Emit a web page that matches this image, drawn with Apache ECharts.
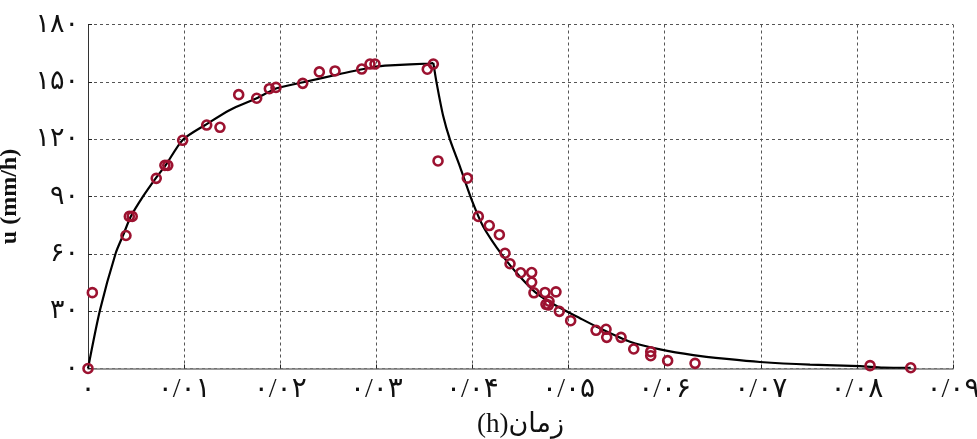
<!DOCTYPE html>
<html>
<head>
<meta charset="utf-8">
<script src="https://cdn.jsdelivr.net/npm/echarts@6/dist/echarts.min.js"></script>
<style>
  html, body { margin: 0; padding: 0; background: #fff; }
  #main { width: 977px; height: 439px; }
</style>
</head>
<body>
<div id="main"></div>
<script>
// tick labels (Persian digits)
var xLabels = ['۰', '۰/۰۱', '۰/۰۲', '۰/۰۳', '۰/۰۴', '۰/۰۵', '۰/۰۶', '۰/۰۷', '۰/۰۸', '۰/۰۹'];
var yLabels = ['۰', '۳۰', '۶۰', '۹۰', '۱۲۰', '۱۵۰', '۱۸۰'];

// measured points
var obsX = [0, 0.00045, 0.00395, 0.0043, 0.0046, 0.0071, 0.0080, 0.0083, 0.00985, 0.01235,
  0.01373, 0.01568, 0.01755, 0.01887, 0.01956, 0.02234, 0.02407, 0.0257, 0.02848, 0.02934,
  0.02986, 0.0353, 0.03593, 0.03642, 0.03947, 0.04061, 0.04175, 0.0428, 0.04339, 0.04391,
  0.04502, 0.04616, 0.04616, 0.0464, 0.04755, 0.04869, 0.04765, 0.04797, 0.0479, 0.04904,
  0.05022, 0.05286, 0.0539, 0.05397, 0.05546, 0.05678, 0.05855, 0.05855, 0.06031, 0.06316,
  0.08137, 0.0856];
var obsY = [0, 39.7, 69.6, 79.6, 79.6, 99.5, 106.3, 106.3, 119.4, 127.4,
  126.2, 143.3, 141.4, 146.4, 147.1, 149.2, 155.2, 155.7, 156.7, 159.3,
  159.3, 156.6, 159.3, 108.6, 99.6, 79.6, 74.8, 70.0, 60.3, 54.8,
  50.1, 50.2, 45.1, 39.6, 39.8, 40.1, 33.6, 35.2, 33.2, 29.9,
  25.0, 20.0, 20.5, 16.3, 16.3, 10.2, 8.8, 6.7, 4.1, 2.7,
  1.5, 0.4];

// fitted curve (rise, peak, decay)
var fitX = [0, 0.00125, 0.00288, 0.00367, 0.00444, 0.00576, 0.00704, 0.0081, 0.00985, 0.01235,
  0.01477, 0.01755, 0.01963, 0.0224, 0.02622, 0.02986, 0.03143, 0.03558, 0.03593,
  0.03628, 0.03697, 0.03767, 0.0387, 0.03992, 0.04113, 0.04321, 0.04495, 0.04668, 0.04876,
  0.05119, 0.05327, 0.05639, 0.05952, 0.06298, 0.06645, 0.06992, 0.07512, 0.08032, 0.08275,
  0.0856];
var fitY = [0, 30.6, 60.3, 69.9, 79.4, 90.3, 99.5, 106.5, 119.6, 127.9,
  135.3, 141.4, 146.6, 149.8, 154.1, 157.9, 158.6, 159.6, 159.9,
  149.2, 131.8, 119.6, 105.6, 88.2, 74.2, 58.5, 48.0, 39.3, 32.7,
  26.3, 21.0, 14.0, 10.0, 7.0, 5.0, 3.4, 2.0, 1.2, 0.5,
  0.4];
var peakIdx = 18;

var labelFont = "'Liberation Serif', 'DejaVu Sans', serif";

var chart = echarts.init(document.getElementById('main'));

function pairs(xs, ys, a, b) {
  var out = [];
  for (var i = a; i < b; i++) out.push([xs[i], ys[i]]);
  return out;
}

var option = {
  animation: false,
  backgroundColor: '#fff',
  grid: { left: 88, right: 24, top: 24.5, bottom: 70.5, outerBoundsMode: 'none', containLabel: false },
  xAxis: {
    type: 'value',
    min: 0,
    max: 0.09,
    interval: 0.01,
    name: '(h)زمان',
    nameLocation: 'middle',
    nameGap: 43,
    nameTextStyle: { fontFamily: labelFont, fontSize: 27, color: '#111' },
    axisLine: { show: true, lineStyle: { color: '#7a7a7a', width: 1.5 } },
    axisTick: { show: true, inside: true, length: 4, lineStyle: { color: '#222' } },
    axisLabel: {
      margin: 7,
      fontFamily: labelFont,
      fontSize: 28,
      color: '#111',
      formatter: function (v) { return xLabels[Math.round(v / 0.01)]; }
    },
    splitLine: { show: true, lineStyle: { color: '#555', type: [3, 3], width: 1 } }
  },
  yAxis: {
    type: 'value',
    min: 0,
    max: 180,
    interval: 30,
    name: 'u (mm/h)',
    nameLocation: 'middle',
    nameGap: 66,
    nameTextStyle: { fontFamily: labelFont, fontSize: 24, fontWeight: 'bold', color: '#111' },
    axisLine: { show: true, lineStyle: { color: '#333', width: 1 } },
    axisTick: { show: true, inside: true, length: 4, lineStyle: { color: '#222' } },
    axisLabel: {
      margin: 9,
      fontFamily: labelFont,
      fontSize: 27,
      color: '#111',
      formatter: function (v) { return yLabels[Math.round(v / 30)]; }
    },
    splitLine: { show: true, lineStyle: { color: '#555', type: [3, 3], width: 1 } }
  },
  series: [
    {
      name: 'rise',
      type: 'line',
      data: pairs(fitX, fitY, 0, peakIdx + 1),
      showSymbol: false,
      smooth: 0.25,
      lineStyle: { color: '#000', width: 2.2 },
      z: 2
    },
    {
      name: 'decay',
      type: 'line',
      data: pairs(fitX, fitY, peakIdx, fitX.length),
      showSymbol: false,
      smooth: 0.25,
      lineStyle: { color: '#000', width: 2.2 },
      z: 2
    },
    {
      name: 'obs',
      type: 'scatter',
      data: pairs(obsX, obsY, 0, obsX.length),
      symbol: 'circle',
      symbolSize: 9,
      itemStyle: { color: 'rgba(0,0,0,0)', borderColor: '#9c1230', borderWidth: 2.6, opacity: 1 },
      z: 3
    }
  ]
};

chart.setOption(option);
</script>
</body>
</html>
